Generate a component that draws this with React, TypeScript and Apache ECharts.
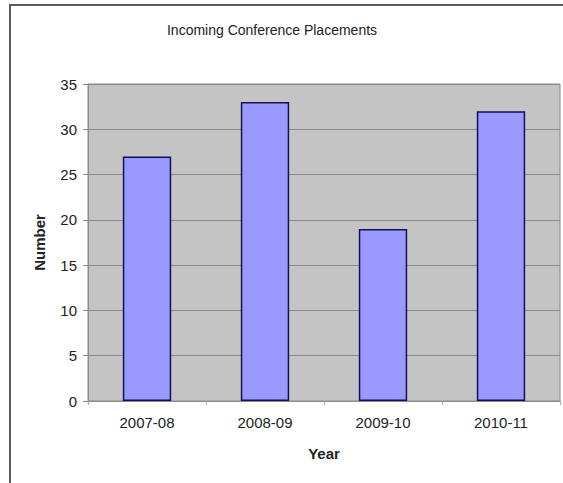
import React, { useEffect, useRef } from "react";
import * as echarts from "echarts";

const categories = ["2007-08", "2008-09", "2009-10", "2010-11"];
const values = [27, 33, 19, 32];
const titleText = "Incoming Conference Placements";
const xName = "Year";
const yName = "Number";

export default function App() {
  const ref = useRef<HTMLDivElement>(null);
  useEffect(() => {
    if (!ref.current) return;
    const chart = echarts.init(ref.current, null, { renderer: "svg" });
    const font = "'Liberation Sans', Arial, sans-serif";
    chart.setOption({
      animation: false,
      backgroundColor: "#ffffff",
      textStyle: { fontFamily: font },
      graphic: [
        { type: "line", shape: { x1: 10, y1: 5, x2: 10, y2: 483 }, style: { stroke: "#5a5a5a", lineWidth: 2 } },
        { type: "line", shape: { x1: 9, y1: 5, x2: 563, y2: 5 }, style: { stroke: "#5a5a5a", lineWidth: 2 } },
        {
          type: "text",
          x: 272,
          y: 30,
          style: {
            text: titleText,
            fontFamily: font,
            fontSize: 14,
            fill: "#222",
            textAlign: "center",
            textVerticalAlign: "middle",
          },
        },
      ],
      grid: {
        left: 88,
        top: 84,
        right: 3,
        bottom: 82,
        show: true,
        backgroundColor: "#c4c4c4",
        borderColor: "#8a8a8a",
        borderWidth: 1,
      },
      xAxis: {
        type: "category",
        data: categories,
        name: xName,
        nameLocation: "middle",
        nameGap: 45,
        nameTextStyle: { fontFamily: font, fontSize: 15, fontWeight: "bold", color: "#222" },
        axisLine: { show: true, lineStyle: { color: "#8a8a8a" } },
        axisTick: { show: true, length: 4, lineStyle: { color: "#aaaaaa" } },
        axisLabel: { fontFamily: font, fontSize: 15, color: "#222", margin: 14 },
      },
      yAxis: {
        type: "value",
        min: 0,
        max: 35,
        interval: 5,
        name: yName,
        nameLocation: "middle",
        nameGap: 41,
        nameRotate: 90,
        nameTextStyle: { fontFamily: font, fontSize: 15, fontWeight: "bold", color: "#222" },
        axisLine: { show: true, lineStyle: { color: "#8a8a8a" } },
        axisTick: { show: true, length: 5, lineStyle: { color: "#8a8a8a" } },
        axisLabel: { fontFamily: font, fontSize: 15, color: "#222", margin: 11 },
        splitLine: { show: true, lineStyle: { color: "#8a8a8a", width: 1 } },
      },
      series: [
        {
          type: "bar",
          data: values,
          barWidth: "41%",
          itemStyle: { color: "#9999ff", borderColor: "#10105a", borderWidth: 1.5 },
        },
      ],
    });
    return () => chart.dispose();
  }, []);
  return (
    <div
      ref={ref}
      style={{ position: "fixed", left: 0, top: 0, width: 563, height: 483 }}
    />
  );
}
